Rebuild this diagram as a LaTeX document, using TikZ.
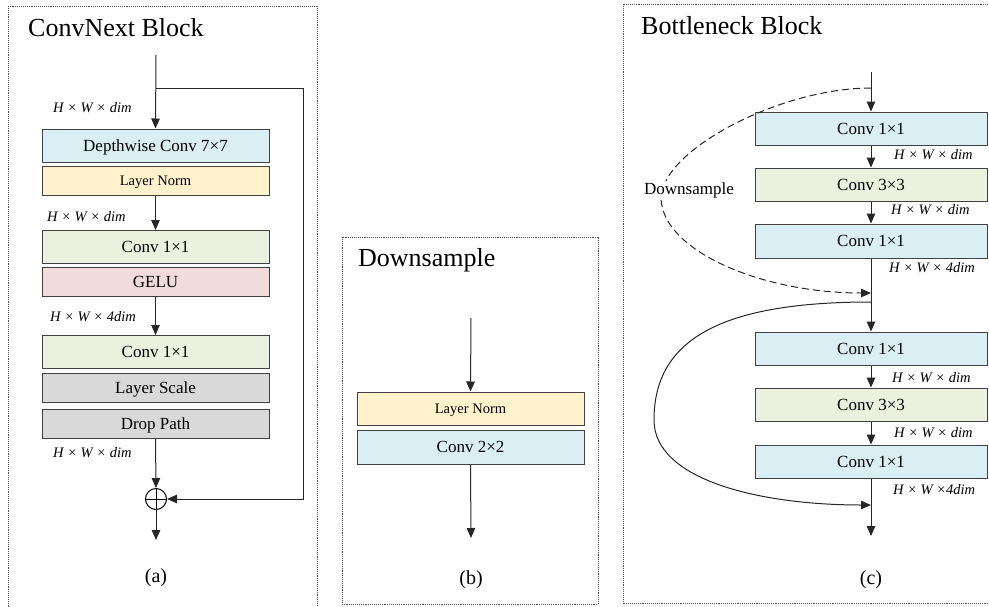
\documentclass[tikz,border=0pt]{standalone}
\usepackage{fontspec}
\setmainfont{Liberation Serif}
\usetikzlibrary{arrows.meta}
\definecolor{cblue}{HTML}{DAEEF3}
\definecolor{cyellow}{HTML}{FFF2CC}
\definecolor{cgreen}{HTML}{EBF1DE}
\definecolor{cpink}{HTML}{F2DCDB}
\definecolor{cgray}{HTML}{D9D9D9}
\definecolor{cedge}{HTML}{404040}
\definecolor{cframe}{HTML}{555555}
\tikzset{
  blk/.style={draw=cedge, line width=1pt, inner sep=0pt, minimum width=227pt,
              minimum height=33pt, font=\fontsize{17}{17}\selectfont,
              text height=11.2pt, text depth=0pt},
  blkw/.style={blk, minimum width=232pt},
  smalltxt/.style={font=\fontsize{14.5}{14.5}\selectfont, text height=9.6pt},
  arr/.style={line width=1pt, draw=black!85, -{Triangle[length=10pt,width=8.5pt]}},
  frame/.style={draw=cframe, densely dotted, line width=0.9pt},
  dimlbl/.style={anchor=west, inner sep=0pt, font=\fontsize{14.5}{14.5}\selectfont\itshape},
  ttl/.style={anchor=base west, inner sep=0pt, font=\fontsize{26}{26}\selectfont},
  captxt/.style={inner sep=0pt, font=\fontsize{20}{20}\selectfont},
}
\begin{document}
\begin{tikzpicture}[x=1pt, y=-1pt]
\useasboundingbox (0,0) rectangle (989,606);
\clip (0,0) rectangle (989,606);

% ---------------- ConvNext block ----------------
\draw[frame] (8,6) rectangle (317,615);
\node[ttl] (ta) at (28,36) {ConvNext Block};

\node[blk, fill=cblue]   (dw)   at (155.5,145.5) {Depthwise Conv 7×7};
\node[blk, fill=cyellow, minimum height=29pt, smalltxt] (lna) at (155.5,180.5) {Layer Norm};
\node[blk, fill=cgreen]  (ca1)  at (155.5,247)   {Conv 1×1};
\node[blk, fill=cpink, minimum height=29pt]  (gelu) at (155.5,281.5) {GELU};
\node[blk, fill=cgreen]  (ca2)  at (155.5,352)   {Conv 1×1};
\node[blk, fill=cgray, minimum height=29pt]  (ls)   at (155.5,387.5) {Layer Scale};
\node[blk, fill=cgray, minimum height=29pt]  (dp)   at (155.5,423.5) {Drop Path};

\node[circle, draw=black, line width=1pt, minimum size=21pt, inner sep=0pt] (plus) at (156,499) {};
\draw[line width=1pt] (plus.north) -- (plus.south) (plus.west) -- (plus.east);

\coordinate (ain)  at (156,55);
\coordinate (abr)  at (156,88);
\coordinate (acor) at (303,88);
\coordinate (aout) at (156,540);

\draw[arr] (ain) -- (dw.north);
\draw[arr] (abr) -- (acor) |- (plus.east);
\draw[arr] (lna.south) -- (ca1.north);
\draw[arr] (gelu.south) -- (ca2.north);
\draw[arr] (dp.south) -- (plus.north);
\draw[arr] (plus.south) -- (aout);

\node[dimlbl] (la1) at (53,108) {H × W × dim};
\node[dimlbl] (la2) at (47,217) {H × W × dim};
\node[dimlbl] (la3) at (50,317) {H × W × 4dim};
\node[dimlbl] (la4) at (53,453) {H × W × dim};

\node[captxt] (capa) at (156,578) {(a)};

% ---------------- Downsample ----------------
\draw[frame] (342,237) rectangle (598,604);
\node[ttl] (tb) at (358,266) {Downsample};

\node[blk, fill=cyellow, smalltxt] (lnb) at (470.5,408.5) {Layer Norm};
\node[blk, fill=cblue, minimum height=34pt] (cb) at (470.5,447) {Conv 2×2};

\coordinate (bin)  at (471,318);
\coordinate (bout) at (471,538);
\draw[arr] (bin) -- (lnb.north);
\draw[arr] (cb.south) -- (bout);

\node[captxt] (capb) at (471,580) {(b)};

% ---------------- Bottleneck block ----------------
\draw[frame] (623,4) rectangle (995,603);
\node[ttl] (tc) at (641,34) {Bottleneck Block};

\node[blkw, fill=cblue]  (b1) at (871,128.5) {Conv 1×1};
\node[blkw, fill=cgreen] (b2) at (871,184.5) {Conv 3×3};
\node[blkw, fill=cblue, minimum height=34pt] (b3) at (871,241) {Conv 1×1};
\node[blkw, fill=cblue]  (b4) at (871,348.5) {Conv 1×1};
\node[blkw, fill=cgreen] (b5) at (871,404.5) {Conv 3×3};
\node[blkw, fill=cblue]  (b6) at (871,461.5) {Conv 1×1};

\coordinate (cin)   at (871,72);
\coordinate (cds0)  at (871,88);
\coordinate (cdsl)  at (661,198);
\coordinate (cds1)  at (871,293);
\coordinate (csk0)  at (871,302);
\coordinate (cskl)  at (654,420);
\coordinate (csk1)  at (871,505);
\coordinate (cout)  at (871,536);

\draw[arr] (cin) -- (b1.north);
\draw[arr] (b1.south) -- (b2.north);
\draw[arr] (b2.south) -- (b3.north);
\draw[arr] (b3.south) -- (b4.north);
\draw[arr] (b4.south) -- (b5.north);
\draw[arr] (b5.south) -- (b6.north);
\draw[arr] (b6.south) -- (cout);

% shortcut with downsampling (dashed)
\draw[arr, dash pattern=on 7pt off 4pt]
  (cds0) .. controls (780,88) and (662,150) .. (cdsl)
         .. controls (662,250) and (760,293) .. (cds1);
\node[fill=white, inner sep=1pt, font=\fontsize{17}{17}\selectfont] (dsl) at (689,190) {Downsample};

% identity shortcut
\draw[arr]
  (csk0) .. controls (720,302) and (654,340) .. (cskl)
         .. controls (654,480) and (760,505) .. (csk1);

\node[dimlbl] (lc1) at (894,155) {H × W × dim};
\node[dimlbl] (lc2) at (891,210) {H × W × dim};
\node[dimlbl] (lc3) at (889,268) {H × W × 4dim};
\node[dimlbl] (lc4) at (892,378) {H × W × dim};
\node[dimlbl] (lc5) at (894,433) {H × W × dim};
\node[dimlbl] (lc6) at (893,490) {H × W ×4dim};

\node[captxt] (capc) at (871,580) {(c)};
\end{tikzpicture}
\end{document}
